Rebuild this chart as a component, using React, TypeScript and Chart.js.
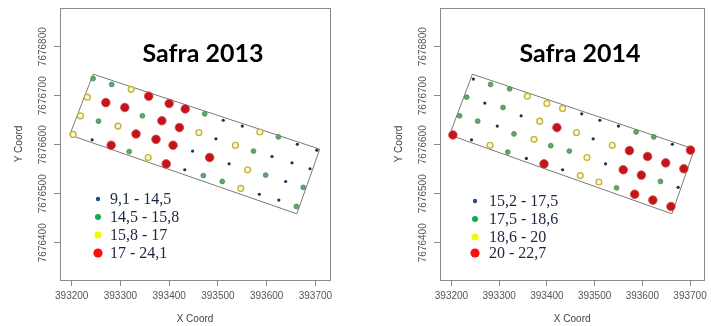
import React, { useEffect, useRef } from "react";
import { Chart, registerables } from "chart.js";

Chart.register(...registerables);

// Axes
const xTicks = [393200, 393300, 393400, 393500, 393600, 393700];
const yTicks = [7676400, 7676500, 7676600, 7676700, 7676800];
const xRange = [393176, 393730];
const yRange = [7676324, 7676879];

// Field boundary (closed polygon)
const fieldX = [393244, 393709, 393662, 393196, 393244];
const fieldY = [7676744, 7676591, 7676459, 7676620, 7676744];

// Safra 2013
const classes2013 = ["9,1 - 14,5", "14,5 - 15,8", "15,8 - 17", "17 - 24,1"];
const blue2013X = [393242, 393448, 393432, 393511, 393496, 393550, 393523, 393611, 393652, 393663, 393703, 393689, 393639, 393585, 393625];
const blue2013Y = [7676610, 7676587, 7676549, 7676650, 7676612, 7676638, 7676561, 7676576, 7676563, 7676601, 7676589, 7676551, 7676525, 7676499, 7676487];
const green2013X = [393244, 393282, 393255, 393345, 393473, 393624, 393318, 393573, 393470, 393509, 393598, 393675, 393661];
const green2013Y = [7676735, 7676723, 7676648, 7676659, 7676663, 7676616, 7676586, 7676587, 7676537, 7676525, 7676538, 7676513, 7676474];
const yellow2013X = [393232, 393322, 393218, 393295, 393203, 393357, 393461, 393536, 393586, 393561, 393547];
const yellow2013Y = [7676697, 7676713, 7676659, 7676638, 7676621, 7676574, 7676625, 7676599, 7676626, 7676549, 7676511];
const red2013X = [393270, 393309, 393358, 393400, 393433, 393385, 393421, 393332, 393373, 393408, 393281, 393394, 393483];
const red2013Y = [7676686, 7676676, 7676699, 7676684, 7676673, 7676649, 7676635, 7676622, 7676611, 7676599, 7676599, 7676561, 7676574];

// Safra 2014
const classes2014 = ["15,2 - 17,5", "17,5 - 18,6", "18,6 - 20", "20 - 22,7"];
const blue2014X = [393246, 393270, 393346, 393296, 393242, 393357, 393433, 393473, 393511, 393550, 393497, 393523, 393663, 393675];
const blue2014Y = [7676734, 7676685, 7676659, 7676638, 7676610, 7676572, 7676549, 7676663, 7676650, 7676638, 7676612, 7676561, 7676601, 7676513];
const green2014X = [393282, 393322, 393232, 393308, 393217, 393255, 393331, 393318, 393408, 393447, 393587, 393624, 393546, 393638];
const green2014Y = [7676723, 7676714, 7676697, 7676676, 7676659, 7676648, 7676622, 7676585, 7676598, 7676587, 7676626, 7676616, 7676512, 7676525];
const yellow2014X = [393359, 393400, 393433, 393385, 393462, 393373, 393281, 393537, 393484, 393470, 393509];
const yellow2014Y = [7676699, 7676684, 7676674, 7676648, 7676625, 7676611, 7676599, 7676599, 7676574, 7676537, 7676524];
const red2014X = [393203, 393421, 393394, 393573, 393611, 393649, 393701, 393560, 393598, 393687, 393584, 393622, 393660];
const red2014Y = [7676620, 7676635, 7676561, 7676588, 7676576, 7676563, 7676589, 7676549, 7676538, 7676551, 7676499, 7676487, 7676474];

const classKeys = ["blue", "green", "yellow", "red"];

const plotStyles: Record<string, any> = {
  blue: { pointRadius: 1.6, backgroundColor: "#1e2d5c", borderColor: "#1e2d5c", borderWidth: 0 },
  green: { pointRadius: 2.4, backgroundColor: "#5fa86d", borderColor: "#3e8a50", borderWidth: 0.8 },
  yellow: { pointRadius: 2.9, backgroundColor: "#fbf9e4", borderColor: "#c4b634", borderWidth: 1.4 },
  red: { pointRadius: 4.3, backgroundColor: "#c3141b", borderColor: "#d84a4a", borderWidth: 0.8 },
};
const legendStyles: Record<string, { r: number; c: string }> = {
  blue: { r: 2.2, c: "#2b4a8a" },
  green: { r: 3, c: "#16a84a" },
  yellow: { r: 3.6, c: "#f7f700" },
  red: { r: 4.6, c: "#fe0d0d" },
};

const pts = (xs: number[], ys: number[]) => xs.map((x, i) => ({ x, y: ys[i] }));

const decorPlugin = {
  id: "panelDecor",
  afterDraw(chart: any, _args: any, opts: any) {
    const { ctx, chartArea } = chart;
    const { left, top, right, bottom } = chartArea;
    ctx.save();
    // frame
    ctx.strokeStyle = "#8a8a8a";
    ctx.lineWidth = 1;
    ctx.strokeRect(Math.round(left) + 0.5, Math.round(top) + 0.5, Math.round(right - left), Math.round(bottom - top));
    // y tick labels (rotated)
    const ys = chart.scales.y;
    ctx.fillStyle = "#555";
    ctx.font = "10px 'Liberation Sans', Arial, sans-serif";
    ctx.textAlign = "center";
    ctx.textBaseline = "middle";
    ys.ticks.forEach((t: any) => {
      const py = ys.getPixelForValue(t.value);
      ctx.save();
      ctx.translate(left - 17, py);
      ctx.rotate(-Math.PI / 2);
      ctx.fillText(String(t.value), 0, 0);
      ctx.restore();
    });
    // axis titles
    ctx.fillStyle = "#444";
    ctx.font = "10px 'Liberation Sans', Arial, sans-serif";
    ctx.save();
    ctx.translate(left - 41, (top + bottom) / 2);
    ctx.rotate(-Math.PI / 2);
    ctx.fillText("Y Coord", 0, 0);
    ctx.restore();
    ctx.fillText("X Coord", (left + right) / 2, 319);
    // panel title
    ctx.fillStyle = "#000";
    ctx.font = "bold 25px Lato, 'Open Sans', sans-serif";
    ctx.textBaseline = "alphabetic";
    ctx.fillText(opts.title, left + opts.titleDx, 62, 130);
    // legend
    ctx.textAlign = "left";
    ctx.textBaseline = "middle";
    ctx.font = "16px 'Liberation Serif', 'Times New Roman', serif";
    opts.items.forEach((it: any, i: number) => {
      const y = opts.rows[i];
      const st = legendStyles[it.key];
      ctx.beginPath();
      ctx.fillStyle = st.c;
      ctx.arc(left + opts.symDx, y, st.r, 0, Math.PI * 2);
      ctx.fill();
      ctx.fillStyle = "#1c2541";
      ctx.fillText(it.label, left + opts.textDx, y + 1);
    });
    ctx.restore();
  },
};

type PanelProps = {
  title: string;
  classes: string[];
  series: { xs: number[]; ys: number[] }[];
  canvasLeft: number;
  canvasWidth: number;
  padRight: number;
  titleDx: number;
  symDx: number;
  textDx: number;
  rows: number[];
};

function Panel(p: PanelProps) {
  const ref = useRef<HTMLCanvasElement | null>(null);
  useEffect(() => {
    if (!ref.current) return;
    const datasets: any[] = p.series.map((s, i) => ({
      label: p.classes[i],
      data: pts(s.xs, s.ys),
      showLine: false,
      pointHoverRadius: plotStyles[classKeys[i]].pointRadius,
      ...plotStyles[classKeys[i]],
    }));
    // reverse so red is drawn on top (index 0 drawn last)
    datasets.reverse();
    datasets.push({
      label: "field",
      data: pts(fieldX, fieldY),
      showLine: true,
      pointRadius: 0,
      borderColor: "#7a7a7a",
      borderWidth: 1,
      backgroundColor: "transparent",
      fill: false,
    });
    const chart = new Chart(ref.current, {
      type: "scatter",
      data: { datasets },
      plugins: [decorPlugin],
      options: {
        responsive: false,
        animation: false,
        devicePixelRatio: 1,
        layout: { padding: { left: 0, top: 8, right: p.padRight, bottom: 0 } },
        plugins: {
          legend: { display: false },
          tooltip: { enabled: false },
          title: { display: false },
          panelDecor: {
            title: p.title,
            titleDx: p.titleDx,
            symDx: p.symDx,
            textDx: p.textDx,
            rows: p.rows,
            items: p.classes.map((label, i) => ({ label, key: classKeys[i] })),
          },
        } as any,
        scales: {
          x: {
            type: "linear",
            min: xRange[0],
            max: xRange[1],
            afterBuildTicks: (s: any) => {
              s.ticks = xTicks.map((v) => ({ value: v }));
            },
            afterFit: (s: any) => {
              s.height = 46;
            },
            grid: { drawOnChartArea: false, drawTicks: true, tickLength: 6, color: "#8a8a8a" },
            border: { display: false },
            ticks: {
              font: { size: 10, family: "'Liberation Sans', Arial, sans-serif" },
              color: "#555",
              padding: 4,
              maxRotation: 0,
              minRotation: 0,
              autoSkip: false,
              callback: (v: any) => String(v),
            },
          },
          y: {
            type: "linear",
            min: yRange[0],
            max: yRange[1],
            afterBuildTicks: (s: any) => {
              s.ticks = yTicks.map((v) => ({ value: v }));
            },
            afterFit: (s: any) => {
              s.width = 60;
            },
            grid: { drawOnChartArea: false, drawTicks: true, tickLength: 6, color: "#8a8a8a" },
            border: { display: false },
            ticks: { display: false },
          },
        },
      } as any,
    });
    return () => chart.destroy();
  }, []);
  return (
    <canvas
      ref={ref}
      width={p.canvasWidth}
      height={326}
      style={{ position: "absolute", left: p.canvasLeft, top: 0, width: p.canvasWidth, height: 326 }}
    />
  );
}

export default function App() {
  return (
    <div style={{ position: "absolute", left: 0, top: 0, width: 711, height: 326, background: "#fff", overflow: "hidden" }}>
      <Panel
        title="Safra 2013"
        classes={classes2013}
        series={[
          { xs: blue2013X, ys: blue2013Y },
          { xs: green2013X, ys: green2013Y },
          { xs: yellow2013X, ys: yellow2013Y },
          { xs: red2013X, ys: red2013Y },
        ]}
        canvasLeft={0}
        canvasWidth={380}
        padRight={50}
        titleDx={143}
        symDx={38}
        textDx={50}
        rows={[199, 217, 235, 253]}
      />
      <Panel
        title="Safra 2014"
        classes={classes2014}
        series={[
          { xs: blue2014X, ys: blue2014Y },
          { xs: green2014X, ys: green2014Y },
          { xs: yellow2014X, ys: yellow2014Y },
          { xs: red2014X, ys: red2014Y },
        ]}
        canvasLeft={380}
        canvasWidth={331}
        padRight={1}
        titleDx={140}
        symDx={35}
        textDx={49}
        rows={[201, 219, 237, 253]}
      />
    </div>
  );
}
